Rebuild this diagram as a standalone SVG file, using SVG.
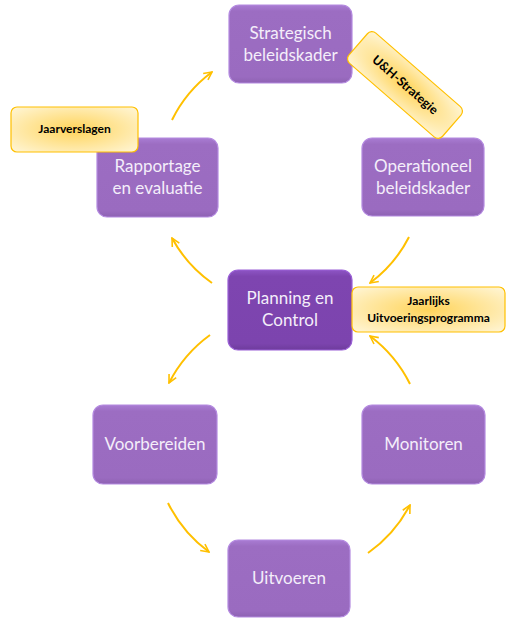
<svg xmlns="http://www.w3.org/2000/svg" width="520" height="631" viewBox="0 0 520 631">
<defs>
<style>
.box{fill:url(#pg);stroke:#B48AE0;stroke-width:1.2}
.boxd{fill:url(#pgd);stroke:#9A5FD6;stroke-width:1.2}
.t{font-family:Lato,"Open Sans","Liberation Sans",sans-serif;font-size:17px;fill:#F4EEFA;text-anchor:middle}
.call{fill:url(#yg);stroke:#FFC000;stroke-width:1.2}
.ct{font-family:Lato,"Open Sans","Liberation Sans",sans-serif;font-size:12px;font-weight:bold;fill:#000;text-anchor:middle}
.arr{fill:none;stroke:#FFC000;stroke-width:2;marker-end:url(#ah)}
</style>
<linearGradient id="pg" x1="0" y1="0" x2="0" y2="1">
<stop offset="0" stop-color="#A97CD3"/>
<stop offset="0.08" stop-color="#9C6DC2"/>
<stop offset="0.92" stop-color="#9A6BC0"/>
<stop offset="1" stop-color="#8E62B3"/>
</linearGradient>
<linearGradient id="pgd" x1="0" y1="0" x2="0" y2="1">
<stop offset="0" stop-color="#8D55C4"/>
<stop offset="0.08" stop-color="#7E45B0"/>
<stop offset="0.92" stop-color="#7C44AE"/>
<stop offset="1" stop-color="#6E3C9C"/>
</linearGradient>
<radialGradient id="yg" cx="0.5" cy="0.5" r="0.7">
<stop offset="0" stop-color="#FFD45A"/>
<stop offset="1" stop-color="#FFF6D8"/>
</radialGradient>
<marker id="ah" viewBox="0 0 10 10" refX="9" refY="5" markerWidth="5" markerHeight="5" orient="auto">
<path d="M1,1 L9,5 L1,9" fill="none" stroke="#FFC000" stroke-width="1.6"/>
</marker>
</defs>

<g id="connectors">
<path class="arr" d="M172,120 A132,132 0 0 1 212,72"/>
<path class="arr" d="M409,237 A132,132 0 0 1 370,283"/>
<path class="arr" d="M212,283 A132,132 0 0 1 172,238"/>
<path class="arr" d="M210,335 A135,135 0 0 0 169,383"/>
<path class="arr" d="M168,503 A135,135 0 0 0 209,552"/>
<path class="arr" d="M368,553 A135,135 0 0 0 410,505"/>
<path class="arr" d="M410,384 A135,135 0 0 0 370,336"/>
</g>

<g id="strategisch">
<rect class="box" x="229" y="5" width="123" height="78" rx="10"/>
<text class="t" x="290.5" y="39">Strategisch</text>
<text class="t" x="290.5" y="61">beleidskader</text>
</g>

<g id="operationeel">
<rect class="box" x="362" y="138" width="122" height="78" rx="10"/>
<text class="t" x="423" y="172">Operationeel</text>
<text class="t" x="423" y="194">beleidskader</text>
</g>

<g id="uh-strategie">
<g transform="translate(405,85) rotate(41)">
<rect class="call" x="-62" y="-20" width="124" height="40" rx="6"/>
<text class="ct" x="0" y="4" style="font-size:12.5px">U&amp;H-Strategie</text>
</g>
</g>

<g id="rapportage">
<rect class="box" x="97" y="138" width="121" height="79" rx="10"/>
<text class="t" x="157.5" y="172">Rapportage</text>
<text class="t" x="157.5" y="194">en evaluatie</text>
</g>

<g id="jaarverslagen">
<rect class="call" x="11" y="107" width="127" height="45" rx="6"/>
<text class="ct" x="74.5" y="133">Jaarverslagen</text>
</g>

<g id="planning">
<rect class="boxd" x="228" y="270" width="124" height="80" rx="10"/>
<text class="t" x="290" y="304">Planning en</text>
<text class="t" x="290" y="326">Control</text>
</g>

<g id="jaarlijks">
<rect class="call" x="352" y="287" width="153" height="45" rx="6"/>
<text class="ct" x="428.5" y="305">Jaarlijks</text>
<text class="ct" x="428.5" y="322">Uitvoeringsprogramma</text>
</g>

<g id="voorbereiden">
<rect class="box" x="93" y="405" width="124" height="79" rx="10"/>
<text class="t" x="155" y="450">Voorbereiden</text>
</g>

<g id="monitoren">
<rect class="box" x="362" y="405" width="123" height="79" rx="10"/>
<text class="t" x="423.5" y="450">Monitoren</text>
</g>

<g id="uitvoeren">
<rect class="box" x="228" y="540" width="122" height="77" rx="10"/>
<text class="t" x="289" y="584">Uitvoeren</text>
</g>
</svg>
